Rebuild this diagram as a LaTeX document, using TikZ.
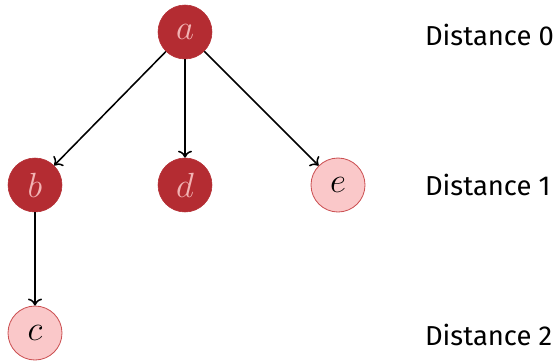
\documentclass[tikz,border=0pt]{standalone}
\usepackage{fontspec}
\setmainfont{Fira Sans}
\usetikzlibrary{positioning,arrows.meta}

\definecolor{darknode}{RGB}{180,44,50}
\definecolor{darklabel}{RGB}{242,180,180}
\definecolor{lightnode}{RGB}{250,200,201}
\definecolor{lightedge}{RGB}{204,82,84}

\begin{document}
\begin{tikzpicture}[
      visited/.style={
        circle,
        fill=darknode,
        draw=darknode,
        text=darklabel,
        minimum size=1.35cm,
        inner sep=0pt,
        font=\fontsize{23}{25}\selectfont},
      fresh/.style={
        circle,
        fill=lightnode,
        draw=lightedge,
        line width=0.6pt,
        text=black,
        minimum size=1.35cm,
        inner sep=0pt,
        font=\fontsize{23}{25}\selectfont},
      level/.style={
        anchor=west,
        inner sep=0pt,
        font=\fontsize{19.5}{21}\selectfont},
      edge/.style={-{To[length=5pt,width=10pt]}, line width=1.1pt}]
    \useasboundingbox (0,0) rectangle (13.975,9.025);

    \node [visited] (a) at (4.625,8.225) {$a$};
    \node [visited] (b) at (0.875,4.4)   {$b$};
    \node [visited] (d) at (4.625,4.4)   {$d$};
    \node [fresh]   (e) at (8.45,4.4)    {$e$};
    \node [fresh]   (c) at (0.875,0.7)   {$c$};

    \draw [edge] (a) -- (b);
    \draw [edge] (a) -- (d);
    \draw [edge] (a) -- (e);
    \draw [edge] (b) -- (c);

    \node [level] (dist0) at (10.62,8.15) {Distance 0};
    \node [level] (dist1) at (10.62,4.4)  {Distance 1};
    \node [level] (dist2) at (10.62,0.65) {Distance 2};
  \end{tikzpicture}
\end{document}
